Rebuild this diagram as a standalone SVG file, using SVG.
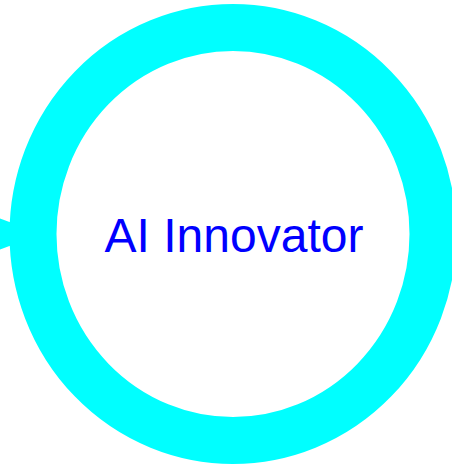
<svg xmlns="http://www.w3.org/2000/svg" width="452" height="466" viewBox="0 0 452 466">
<style>
.ring{fill:#ffffff;stroke:#00ffff;stroke-width:47}
.lbl{font-family:"Liberation Sans",Arial,sans-serif;font-size:48px;fill:#0000ff;text-anchor:middle}
.arr{fill:#00ffff}
</style>
<g id="connectors">
<polygon class="arr" points="0,218.5 42,234 0,249.5"/>
</g>
<g id="node-ai-innovator">
<ellipse class="ring" cx="233" cy="234" rx="200" ry="206.5"/>
<text class="lbl" x="234" y="252">AI Innovator</text>
</g>
</svg>
